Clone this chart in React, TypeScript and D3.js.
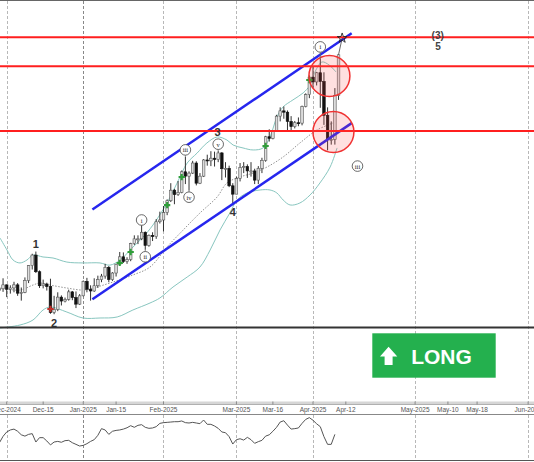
import React from 'react';
import * as d3 from 'd3';

const WIDTH = 534;
const HEIGHT = 462;

// Daily bars, bar 0 = 2 Dec 2024 (25 Dec and 1 Jan absent). First bar shown = -2.
const FIRST_BAR = -2;
const opens = [2638, 2641, 2650, 2640, 2643, 2650, 2631, 2633, 2660, 2694, 2718, 2680, 2648, 2652, 2646, 2587, 2594, 2622, 2613, 2617, 2634, 2621, 2606,
  2625, 2658, 2640, 2636, 2648, 2662, 2670, 2690, 2662, 2677, 2697, 2714, 2703, 2708, 2744, 2755, 2755, 2770, 2740, 2763, 2760, 2794,
  2798, 2815, 2842, 2866, 2856, 2861, 2908, 2898, 2905, 2928, 2882, 2898, 2935, 2933, 2939, 2936, 2951, 2915, 2916, 2876,
  2857, 2893, 2918, 2920, 2910, 2910, 2889, 2916, 2934, 2988, 2984, 3001, 3035, 3047, 3044, 3023, 3011, 3020, 3019, 3057, 3084,
  3124, 3113, 3134, 3114, 3037, 2982, 2982, 3082];
const highs = [2656, 2665, 2651, 2649, 2657, 2654, 2644, 2667, 2695, 2721, 2726, 2683, 2662, 2655, 2664, 2625, 2633, 2626, 2621, 2639, 2636, 2635, 2629,
  2660, 2666, 2649, 2665, 2671, 2675, 2698, 2693, 2679, 2698, 2725, 2724, 2713, 2746, 2763, 2763, 2786, 2772, 2765, 2770, 2800, 2817,
  2830, 2845, 2882, 2869, 2887, 2911, 2942, 2909, 2933, 2932, 2905, 2937, 2947, 2955, 2954, 2956, 2953, 2930, 2922, 2882,
  2897, 2928, 2930, 2925, 2930, 2915, 2921, 2940, 2990, 3005, 3003, 3038, 3055, 3057, 3048, 3035, 3024, 3032, 3059, 3087, 3128,
  3149, 3136, 3167, 3135, 3055, 3023, 3099, 3175];
const lows = [2632, 2634, 2622, 2630, 2633, 2625, 2614, 2631, 2654, 2685, 2677, 2643, 2642, 2637, 2584, 2583, 2590, 2603, 2610, 2614, 2615, 2597, 2604,
  2624, 2633, 2614, 2634, 2643, 2656, 2664, 2656, 2659, 2669, 2695, 2700, 2698, 2704, 2741, 2743, 2752, 2730, 2737, 2750, 2755, 2790,
  2772, 2809, 2839, 2834, 2853, 2859, 2880, 2865, 2903, 2877, 2880, 2896, 2922, 2921, 2920, 2930, 2889, 2895, 2873, 2832,
  2857, 2886, 2905, 2894, 2897, 2880, 2880, 2905, 2931, 2977, 2982, 2999, 3023, 3029, 2999, 3001, 3007, 3012, 3014, 3055, 3076,
  3100, 3105, 3054, 3015, 2957, 2970, 2970, 3072];
const closes = [2641, 2650, 2640, 2643, 2650, 2631, 2633, 2660, 2694, 2718, 2680, 2648, 2652, 2646, 2587, 2594, 2622, 2613, 2617, 2634, 2621, 2606, 2625,
  2658, 2640, 2636, 2648, 2662, 2670, 2690, 2662, 2677, 2697, 2714, 2703, 2708, 2744, 2755, 2755, 2770, 2740, 2763, 2760, 2794, 2798,
  2815, 2842, 2866, 2856, 2861, 2908, 2898, 2905, 2928, 2882, 2898, 2935, 2933, 2939, 2936, 2951, 2915, 2916, 2876, 2857,
  2893, 2918, 2920, 2910, 2910, 2889, 2916, 2934, 2988, 2984, 3001, 3035, 3047, 3044, 3023, 3011, 3020, 3019, 3057, 3084, 3124,
  3113, 3134, 3114, 3037, 2982, 2982, 3082, 3175];

// Oscillator (lower pane), from bar -2
const oscValues = [37, 51.5, 61.4, 66, 68, 63, 55, 52, 56, 57.6, 38.6, 48.5, 48.5, 41, 32, 38.6, 40, 38, 41.7, 42.4, 37, 33.3, 29.5,
  31, 34.8, 40, 43.9, 53.8, 69, 66, 56, 63, 65, 66, 68, 71, 75.7, 72, 76.5, 78, 72, 69.7, 70.5, 73.5, 81,
  82.6, 83.3, 84, 84.8, 84.8, 86.4, 82.6, 81.8, 83.3, 81.8, 80.3, 88.6, 78.8, 78.8, 75, 69.7, 61.4, 59.8, 50.8, 34,
  43.9, 46, 43, 49.2, 43.9, 35.6, 39.4, 42.4, 52, 55, 63, 72, 84, 87, 77, 68, 69, 70.5, 81, 90, 94,
  88, 80, 73.5, 50.8, 33.3, 33.3, 56];

// Bollinger bands: [bar, price]
const upperBand: [number, number][] = [[-1.84, 2757], [0.08, 2729.6], [1.73, 2706.8], [3.65, 2700], [5.57, 2706.8], [7.21, 2718], [9.96, 2713.6],
  [12.7, 2711.3], [16.5, 2702], [20.9, 2700], [25.6, 2700], [28.3, 2695], [31.1, 2706.8], [34.6, 2736], [37.4, 2759], [40.1, 2786.5],
  [43.96, 2836.7], [46.7, 2882], [49.5, 2928], [52.2, 2950.6], [54.9, 2973.7], [57.7, 2987.4], [60.4, 2980.5], [62.1, 2969],
  [64.8, 2962.4], [67.6, 2957.8], [70.3, 2962.4], [72.2, 2987.4], [74.1, 3033], [75.8, 3056], [78.5, 3072], [81.3, 3088],
  [83.2, 3106], [84.8, 3140.3], [86.5, 3158.6], [88.4, 3151.7], [90.3, 3135.8]];
const middleBand: [number, number][] = [[-1.84, 2642.8], [3.65, 2638.2], [7.21, 2649.6], [9.13, 2654.2], [11.9, 2649.6], [16.5, 2642.8],
  [20.9, 2638.2], [23.7, 2642.8], [28.3, 2654.2], [34.6, 2672.5], [39.3, 2690.7], [43.96, 2736.4], [48.4, 2775.2], [53.0, 2814],
  [57.7, 2850.5], [60.4, 2882.5], [64.0, 2896.2], [67.6, 2905.3], [71.4, 2919], [75.8, 2941.8], [80.4, 2973.7], [85.1, 3003.4],
  [89.5, 3019.4]];
const lowerBand: [number, number][] = [[-1.84, 2551.6], [3.65, 2558.4], [7.21, 2569.8], [9.96, 2592.6], [11.9, 2599.5], [16.5, 2588],
  [20.9, 2574.4], [25.6, 2574.4], [30.3, 2576.7], [34.6, 2592.6], [39.3, 2608.6], [42.0, 2620], [45.6, 2645], [49.5, 2667.9],
  [53.0, 2690.7], [55.8, 2729.6], [58.5, 2775.2], [61.2, 2814], [63.2, 2843.7], [65.9, 2859.6], [69.5, 2866.5], [72.2, 2866.5],
  [74.1, 2859.6], [75.8, 2843.7], [77.7, 2832.3], [80.4, 2836.8], [83.2, 2855.1], [85.9, 2882.5], [88.7, 2919], [90.6, 2962.4]];

const tickBars = [0, 10, 21, 30, 43, 63, 73, 84, 93, 112, 121, 129, 143];
const tickLabels = ['Dec-2024', 'Dec-15', 'Jan-2025', 'Jan-15', 'Feb-2025', 'Mar-2025', 'Mar-16', 'Apr-2025', 'Apr-12', 'May-2025', 'May-10', 'May-18', 'Jun-2025'];
const monthBars = [0, 21, 43, 63, 84, 112, 143];
const yearStartBars = [21];

const levelPrices = [3215, 3149, 3001];
const baseLinePrice = 2552.5;
const channelUpper: [number, number][] = [[23.5, 2822], [94.6, 3224]];
const channelLower: [number, number][] = [[23.5, 2617], [94.6, 3019]];
const zoneCenters: [number, number][] = [[88.5, 3126.6], [89.6, 2998.8]];
const projection: [number, number][] = [[91, 3175], [92, 3213]];
const buySignals: [number, number][] = [[31, 2700], [34, 2725], [44, 2832], [48, 2896], [71, 2967], [83, 3117.5]];
const sellSignals: [number, number][] = [[12, 2595]];

const waveText = ['1', '2', '3', '4', '(3)', '5'];
const waveBars = [8, 13, 57.8, 62, 118.2, 118.3];
const wavePrices = [2743, 2563, 2998, 2817, 3220, 3193.5];

const subText = ['i', 'ii', 'iii', 'iv', 'v', 'i', 'iii'];
const subBars = [37, 38, 49, 50, 58, 86, 96.2];
const subPrices = [2798, 2714, 2958, 2850, 2971, 3193, 2921];
const subAnchor = ['high', 'low', 'high', 'low', 'high', 'high', 'none'];

const signalText = 'LONG';

export default function App() {
  const x = d3.scaleLinear().domain([0, 84]).range([6.7, 313]);
  const y = d3.scaleLinear().domain([2547, 3300]).range([330, 0]);
  const oy = d3.scaleLinear().domain([0, 100]).range([459, 415]);

  const bandLine = d3.line<[number, number]>().x(d => x(d[0])).y(d => y(d[1])).curve(d3.curveCatmullRom);
  const straight = d3.line<[number, number]>().x(d => x(d[0])).y(d => y(d[1]));
  const oscLine = d3.line<number>().x((_, i) => x(FIRST_BAR + i)).y(d => oy(d));
  const cross = d3.symbol(d3.symbolCross, 22)() as string;
  const star = d3.symbol(d3.symbolStar, 30)() as string;

  const bodyW = 2.6;
  const font = "'Liberation Sans', Arial, sans-serif";

  return (
    <svg width={WIDTH} height={HEIGHT} style={{ position: 'absolute', left: 0, top: 0, background: '#fff' }}>
      <rect x={0} y={0} width={WIDTH} height={HEIGHT} fill="#fff" />
      {/* month grid */}
      {monthBars.map(b => {
        const xx = Math.round(x(b)) + 0.5;
        const dark = yearStartBars.includes(b);
        return (
          <g key={'g' + b} stroke={dark ? '#888' : '#b8b8b8'} strokeWidth={1} strokeDasharray="3 2">
            <line x1={xx} x2={xx} y1={1} y2={402} />
            <line x1={xx} x2={xx} y1={415} y2={460} />
          </g>
        );
      })}
      <line x1={0} x2={WIDTH} y1={0.5} y2={0.5} stroke="#666" />

      {/* bollinger */}
      <path d={bandLine(upperBand) || ''} fill="none" stroke="#88c6bf" strokeWidth={1} />
      <path d={bandLine(lowerBand) || ''} fill="none" stroke="#88c6bf" strokeWidth={1} />
      <path d={bandLine(middleBand) || ''} fill="none" stroke="#777" strokeWidth={0.8} strokeDasharray="1.5 1.5" />

      {/* candles */}
      {opens.map((o, k) => {
        const b = FIRST_BAR + k;
        const cx = x(b);
        const c = closes[k];
        const up = c >= o;
        const top = y(Math.max(o, c));
        const h = Math.max(1, Math.abs(y(o) - y(c)));
        return (
          <g key={'c' + k}>
            <line x1={cx} x2={cx} y1={y(highs[k])} y2={y(lows[k])} stroke="#333" strokeWidth={1} />
            <rect x={cx - bodyW / 2} y={top} width={bodyW} height={h}
              fill={up ? '#dcdcdc' : '#111'} stroke={up ? '#555' : '#111'} strokeWidth={0.6} />
          </g>
        );
      })}

      {/* signals */}
      {buySignals.map((s, k) => (
        <path key={'b' + k} d={cross} transform={`translate(${x(s[0])},${y(s[1])})`} fill="#2f9e3a" />
      ))}
      {sellSignals.map((s, k) => (
        <path key={'s' + k} d={cross} transform={`translate(${x(s[0])},${y(s[1])})`} fill="#c0302a" />
      ))}

      {/* channel */}
      <path d={straight(channelUpper) || ''} stroke="#2626ee" strokeWidth={2.5} fill="none" />
      <path d={straight(channelLower) || ''} stroke="#2626ee" strokeWidth={2.5} fill="none" />

      {/* horizontal levels */}
      {levelPrices.map(p => (
        <line key={'l' + p} x1={0} x2={WIDTH} y1={y(p)} y2={y(p)} stroke="#ff1f1f" strokeWidth={2} />
      ))}
      <line x1={0} x2={WIDTH} y1={y(baseLinePrice)} y2={y(baseLinePrice)} stroke="#333" strokeWidth={2} />

      {/* zones */}
      {zoneCenters.map((z, k) => (
        <circle key={'z' + k} cx={x(z[0])} cy={y(z[1])} r={20.5} fill="rgba(255,70,70,0.17)" stroke="#f03232" strokeWidth={1.5} />
      ))}

      {/* projection */}
      <path d={straight(projection) || ''} stroke="#444" strokeWidth={0.8} fill="none" />
      <path d={star} transform={`translate(${x(projection[1][0])},${y(projection[1][1])})`} fill="none" stroke="#222" strokeWidth={0.9} />

      {/* wave labels */}
      {waveText.map((t, k) => (
        <text key={'w' + k} x={x(waveBars[k])} y={y(wavePrices[k])} textAnchor="middle" dominantBaseline="central"
          fontFamily={font} fontWeight="bold" fontSize={k >= 4 ? 10 : 11} fill={k >= 4 ? '#444' : '#333'}>{t}</text>
      ))}

      {/* sub-wave labels */}
      {subText.map((t, k) => {
        const cx = x(subBars[k]);
        const cy = y(subPrices[k]);
        const r = 5.3;
        const idx = Math.round(subBars[k]) - FIRST_BAR;
        let pointer: React.ReactNode = null;
        if (subAnchor[k] === 'high' && idx < highs.length) {
          const ty = y(highs[idx]);
          if (ty > cy + r) pointer = <line x1={cx} x2={cx} y1={cy + r} y2={ty} stroke="#666" strokeWidth={0.8} />;
        } else if (subAnchor[k] === 'low' && idx < lows.length) {
          const ty = y(lows[idx]);
          if (ty < cy - r) pointer = <line x1={cx} x2={cx} y1={cy - r} y2={ty} stroke="#666" strokeWidth={0.8} />;
        }
        return (
          <g key={'r' + k}>
            {pointer}
            <circle cx={cx} cy={cy} r={r} fill="#fff" stroke="#444" strokeWidth={0.8} />
            <text x={cx} y={cy} textAnchor="middle" dominantBaseline="central" fontFamily="'Liberation Serif', serif"
              fontSize={6.5} fill="#222">{t}</text>
          </g>
        );
      })}

      {/* LONG badge */}
      <g>
        <rect x={372.3} y={333.3} width={123.4} height={44.4} fill="#24b04e" />
        <path d="M388.6,346.7 L397.3,356.5 L392.6,356.5 L392.6,365 L384.6,365 L384.6,356.5 L380,356.5 Z" fill="#fff" />
        <text x={441.5} y={364} textAnchor="middle" fontFamily={font} fontWeight="bold" fontSize={21} fill="#fff">{signalText}</text>
      </g>

      {/* x axis strip */}
      <rect x={0} y={401.5} width={WIDTH} height={2.5} fill="#d6d6d6" />
      <line x1={0} x2={WIDTH} y1={404.5} y2={404.5} stroke="#b0b0b0" />
      {tickBars.map((b, k) => (
        <g key={'t' + k}>
          <line x1={x(b)} x2={x(b)} y1={401.5} y2={404.5} stroke="#777" strokeWidth={0.8} />
          <text x={x(b)} y={411.5} textAnchor="middle" fontFamily={font} fontSize={6.5} fill="#555">{tickLabels[k]}</text>
        </g>
      ))}
      <line x1={0} x2={WIDTH} y1={414.5} y2={414.5} stroke="#888" />

      {/* oscillator */}
      <path d={oscLine(oscValues) || ''} fill="none" stroke="#555" strokeWidth={1} />
      <line x1={0} x2={WIDTH} y1={460.5} y2={460.5} stroke="#555" strokeWidth={1.2} />
    </svg>
  );
}
